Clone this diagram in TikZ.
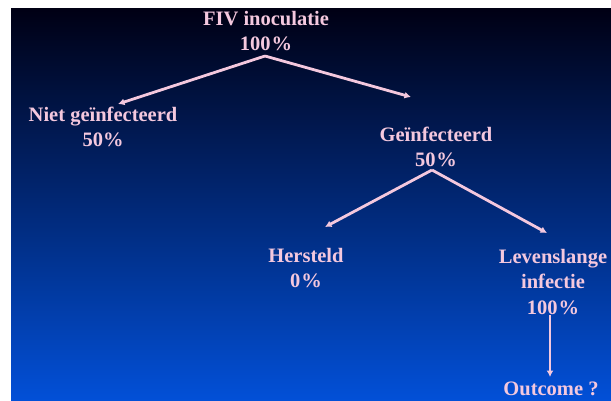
\documentclass[tikz,border=0pt]{standalone}
\usepackage{fontspec}
\setmainfont{Liberation Serif}
\usetikzlibrary{arrows.meta}
\definecolor{roze}{RGB}{244,200,222}
\definecolor{achtertop}{RGB}{0,0,20}
\definecolor{achtermid}{RGB}{8,42,124}
\definecolor{achteronder}{RGB}{2,80,216}

\begin{document}
\begin{tikzpicture}[x=1pt,y=-1pt]
\tikzstyle{lbl}=[text=roze,font=\bfseries\fontsize{20.5}{25.5}\selectfont,align=center,inner sep=0pt]
\tikzstyle{pijl}=[draw=roze,line width=2.8pt,-{Latex[length=6.5pt,width=7pt]}]
\useasboundingbox (0,0) rectangle (611,401);
\shade[top color=achtertop,middle color=achtermid,bottom color=achteronder] (11,9) rectangle (611,401);

\node [lbl] (fiv) at (266,31) {FIV inoculatie\\100\kern1pt\%};
\node [lbl] (niet) at (103,127) {Niet geïnfecteerd\\50\%};
\node [lbl] (gein) at (436,147) {Geïnfecteerd\\50\kern1pt\%};
\node [lbl] (herst) at (306,268) {Hersteld\\0\kern1pt\%};
\node [lbl] (levens) at (553,282) {Levenslange\\infectie\\100\kern1pt\%};
\node [lbl] (outc) at (551,389) {Outcome ?};

\coordinate (top1) at (265,56);
\coordinate (eind1) at (118,104);
\coordinate (eind2) at (411,97);
\coordinate (top2) at (432,170);
\coordinate (eind3) at (325,227);
\coordinate (eind4) at (547,233);
\coordinate (eind5) at (550,377);

\draw[pijl] (top1) -- (eind1);
\draw[pijl] (top1) -- (eind2);
\draw[pijl] (top2) -- (eind3);
\draw[pijl] (top2) -- (eind4);
\draw[pijl] (levens.south -| eind5) -- (eind5);
\end{tikzpicture}
\end{document}
